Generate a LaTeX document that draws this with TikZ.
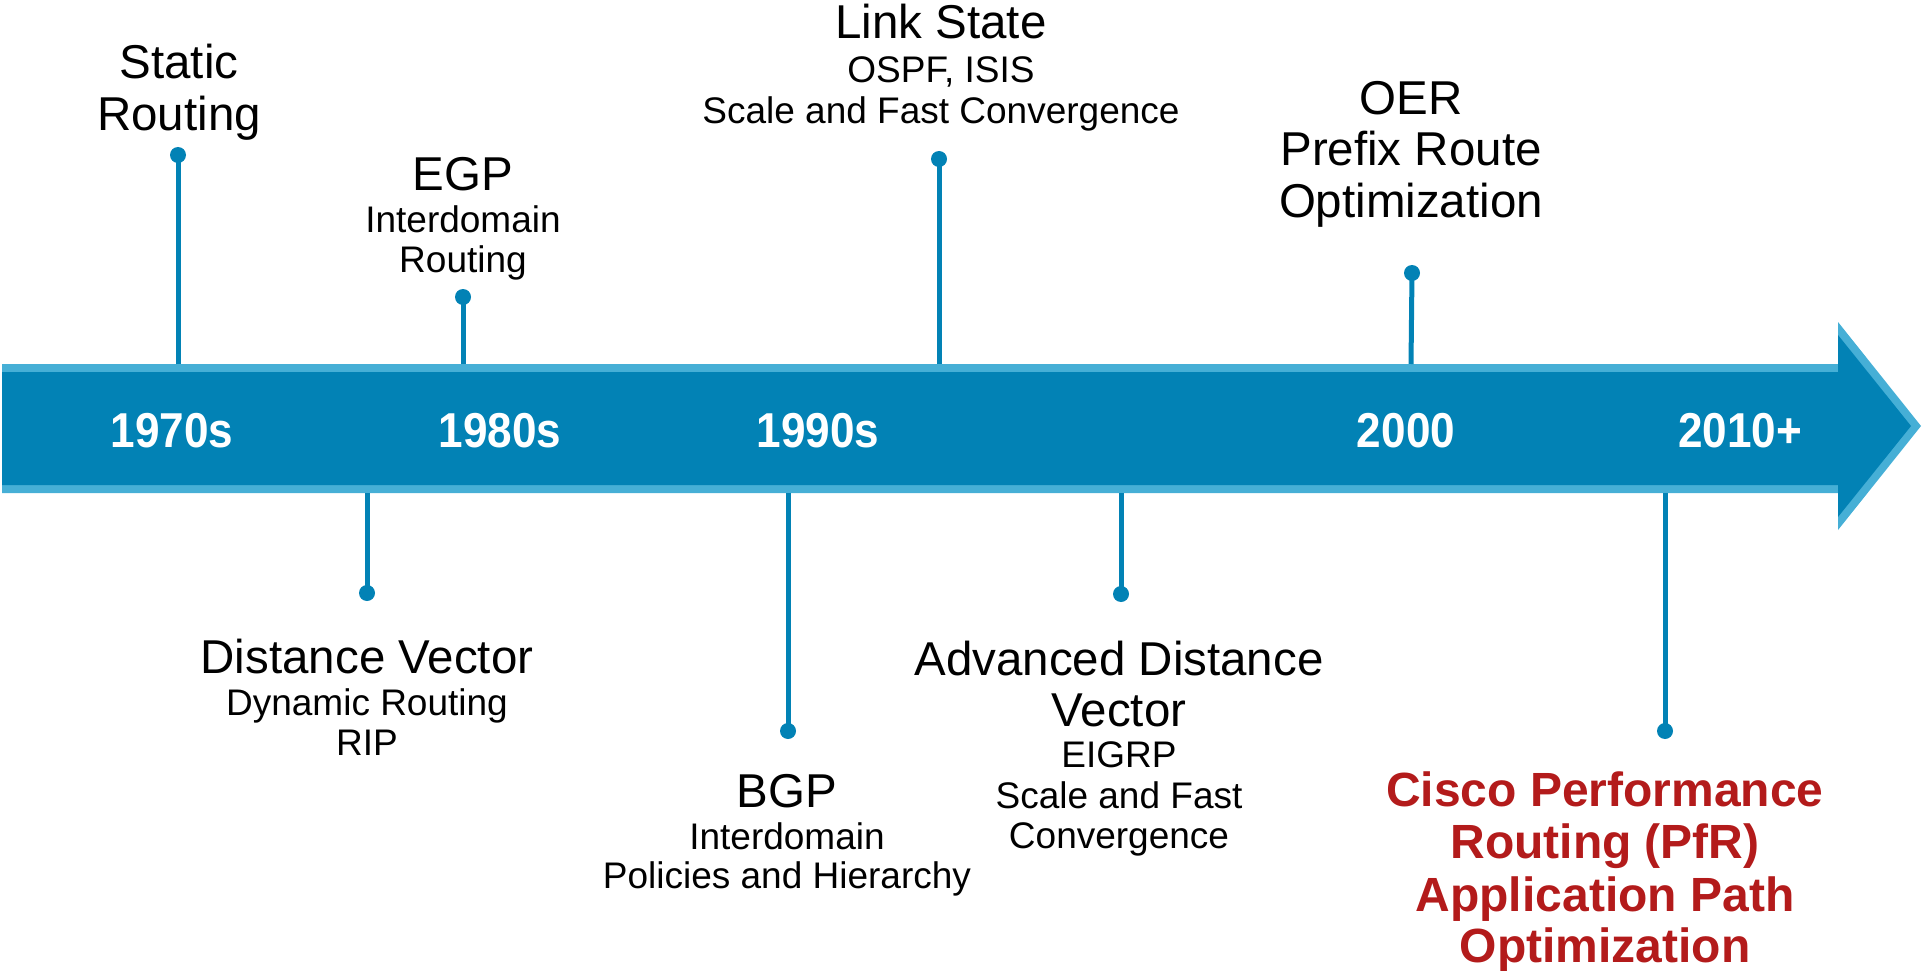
\documentclass[tikz,border=0pt]{standalone}
\usepackage{fontspec}
\setmainfont{Liberation Sans}
\definecolor{bardark}{HTML}{0282B5}
\definecolor{barlight}{HTML}{46AFD6}
\definecolor{pfrred}{HTML}{B31B1B}
\tikzset{
  biglabel/.style={font=\fontsize{47.5}{50}\selectfont, anchor=base, inner sep=0pt},
  sublabel/.style={font=\fontsize{37}{40}\selectfont, anchor=base, inner sep=0pt},
  yearlabel/.style={font=\bfseries\fontsize{49}{50}\selectfont, anchor=base, inner sep=0pt, text=white, xscale=0.9, transform shape},
  pfrlabel/.style={font=\bfseries\fontsize{48}{50}\selectfont, anchor=base, inner sep=0pt, text=pfrred},
  stemdot/.style={circle, fill=bardark, minimum size=16pt, inner sep=0pt},
  stemline/.style={draw=bardark, line width=5pt}
}
\begin{document}
\begin{tikzpicture}[x=1pt,y=-1pt]
\useasboundingbox (0,0) rectangle (1923,971);
% arrow body
\fill[barlight] (2,364) -- (1838,364) -- (1838,322) -- (1921,426) -- (1838,530) -- (1838,493) -- (2,493) -- cycle;
\fill[bardark] (2,372) -- (1838,372) -- (1838,335) -- (1911,426) -- (1838,517) -- (1838,485) -- (2,485) -- cycle;

% stems above
\node[stemdot] (d1) at (178,155) {};
\coordinate (b1) at (178,364);
\node[stemdot] (d2) at (463,297) {};
\coordinate (b2) at (463,364);
\node[stemdot] (d3) at (939,159) {};
\coordinate (b3) at (939,364);
\node[stemdot] (d4) at (1412,273) {};
\coordinate (b4) at (1411,364);
% stems below
\node[stemdot] (d5) at (367,593) {};
\coordinate (b5) at (367,493);
\node[stemdot] (d6) at (788,731) {};
\coordinate (b6) at (788,493);
\node[stemdot] (d7) at (1121,594) {};
\coordinate (b7) at (1121,493);
\node[stemdot] (d8) at (1665,731) {};
\coordinate (b8) at (1665,493);
\foreach \i in {1,...,8} \draw[stemline] (b\i) -- (d\i.center);

% years
\node[yearlabel] (y1) at (172,447) {1970s};
\node[yearlabel] (y2) at (500,447) {1980s};
\node[yearlabel] (y3) at (818,447) {1990s};
\node[yearlabel] (y4) at (1406,447) {2000};
\node[yearlabel] (y5) at (1740,447) {2010+};

% Static Routing
\node[biglabel] (s1) at (179,79) {Static};
\node[biglabel] (s2) at (179,131) {Routing};
% EGP
\node[biglabel] (e1) at (463,190) {EGP};
\node[sublabel] (e2) at (463,232) {Interdomain};
\node[sublabel] (e3) at (463,272) {Routing};
% Link State
\node[biglabel] (l1) at (941,39) {Link State};
\node[sublabel] (l2) at (941,83) {OSPF, ISIS};
\node[sublabel] (l3) at (941,124) {Scale and Fast Convergence};
% OER
\node[biglabel] (o1) at (1411,115) {OER};
\node[biglabel] (o2) at (1411,166) {Prefix Route};
\node[biglabel] (o3) at (1411,217) {Optimization};
% Distance Vector
\node[biglabel] (v1) at (367,673) {Distance Vector};
\node[sublabel] (v2) at (367,715) {Dynamic Routing};
\node[sublabel] (v3) at (367,755) {RIP};
% BGP
\node[biglabel] (g1) at (787,807) {BGP};
\node[sublabel] (g2) at (787,849) {Interdomain};
\node[sublabel] (g3) at (787,888) {Policies and Hierarchy};
% Advanced Distance Vector
\node[biglabel] (a1) at (1119,675) {Advanced Distance};
\node[biglabel] (a2) at (1119,726) {Vector};
\node[sublabel] (a3) at (1119,767) {EIGRP};
\node[sublabel] (a4) at (1119,808) {Scale and Fast};
\node[sublabel] (a5) at (1119,848) {Convergence};
% PfR
\node[pfrlabel] (p1) at (1605,806) {Cisco Performance};
\node[pfrlabel] (p2) at (1605,858) {Routing (PfR)};
\node[pfrlabel] (p3) at (1605,911) {Application Path};
\node[pfrlabel] (p4) at (1605,962) {Optimization};
\end{tikzpicture}
\end{document}
